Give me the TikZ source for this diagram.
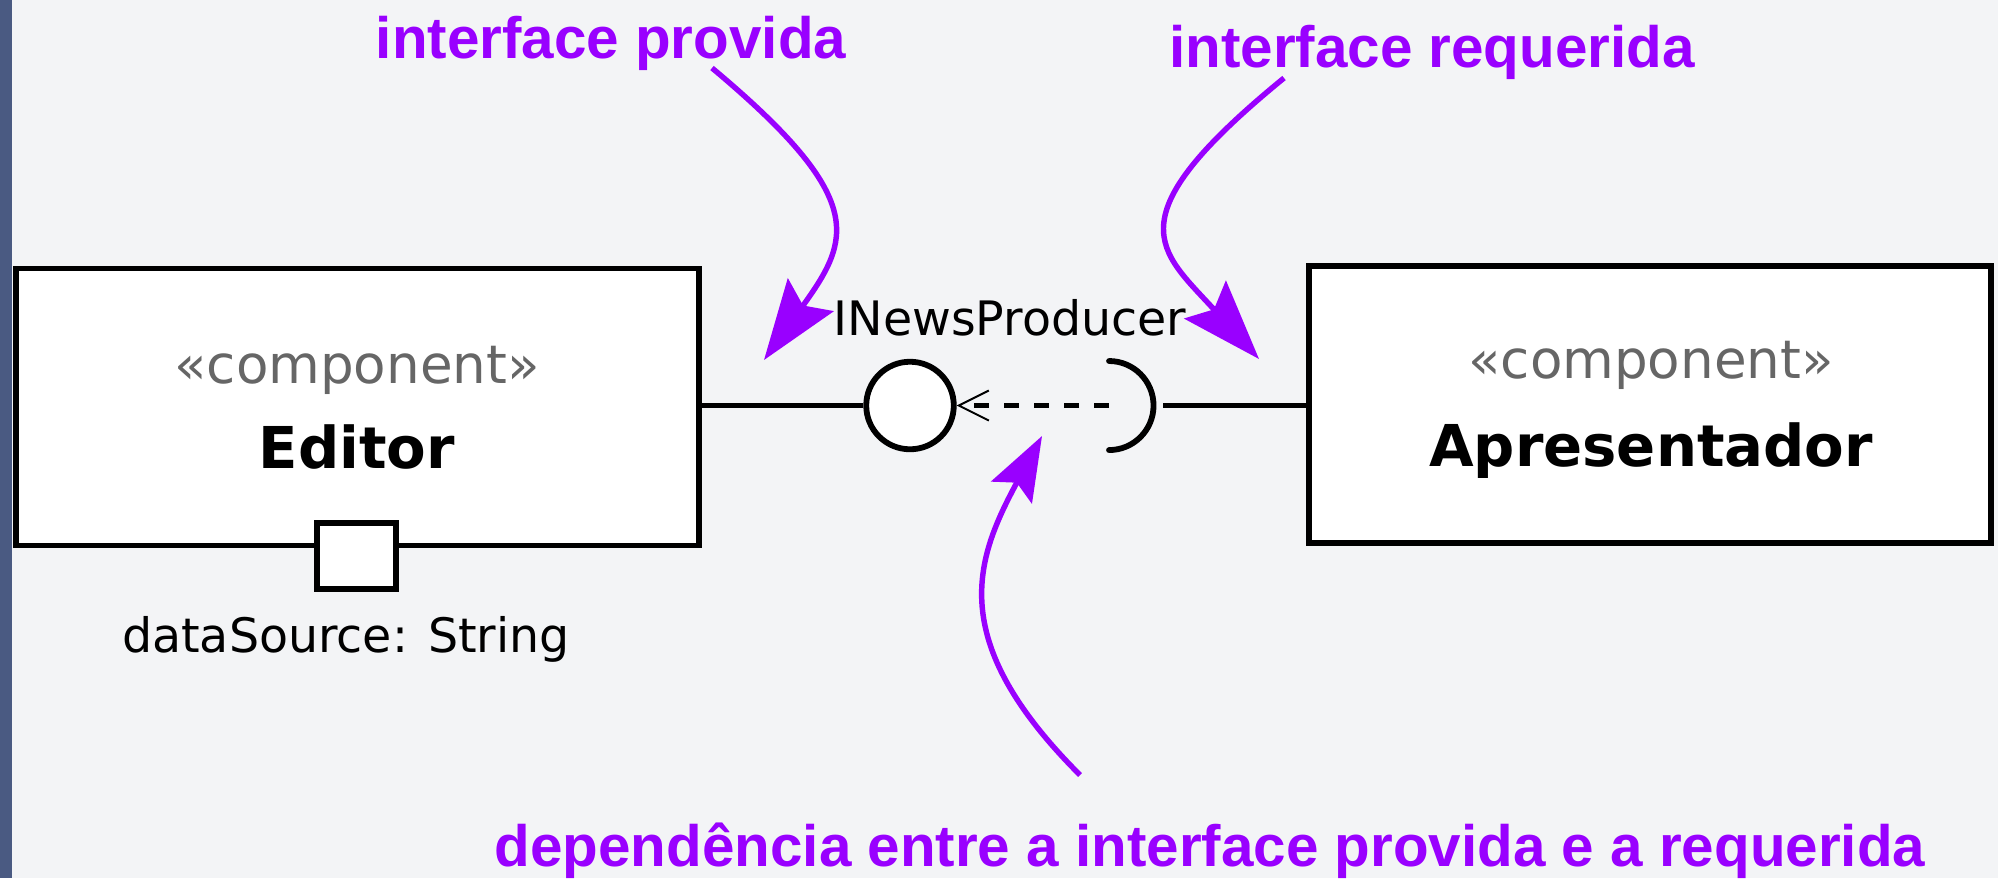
\documentclass[tikz,border=0pt]{standalone}
\usepackage{fontspec}
\setmainfont{DejaVu Sans}
\newfontfamily\notefont{Liberation Sans}
\usetikzlibrary{arrows.meta}
\usetikzlibrary{positioning}
\definecolor{notepurple}{RGB}{153,0,255}
\definecolor{stereogray}{RGB}{102,102,102}
\definecolor{backdrop}{RGB}{243,244,246}
\definecolor{edgeblue}{RGB}{74,90,130}
\tikzset{comp box/.style={rectangle,draw,fill=white,line width=1.65pt,minimum width=6.82cm,minimum height=2.77cm,inner sep=0pt}}
\tikzset{stereo/.style={anchor=base,text=stereogray,font=\fontsize{15.1}{18}\selectfont}}
\tikzset{comp name/.style={anchor=base,font=\fontsize{16.4}{20}\selectfont\bfseries}}
\tikzset{small label/.style={anchor=base,font=\fontsize{13.5}{16}\selectfont}}
\tikzset{note/.style={anchor=base,text=notepurple,font=\notefont\fontsize{16.6}{20}\selectfont\bfseries}}
\tikzset{uml line/.style={line width=1.65pt}}
\tikzset{note arrow/.style={notepurple,line width=1.55pt}}

\begin{document}
\begin{tikzpicture}[x=0.01cm,y=-0.01cm]
    \useasboundingbox (0,0) rectangle (1998,878);
    \fill[backdrop] (0,0) rectangle (1998,878);
    \fill[edgeblue] (0,0) rectangle (12,878);

    % components
    \node[comp box] (editor) at (357.5,407) {};
    \node[comp box] (apresentador) at (1650,404.5) {};
    \node[stereo] (editor-st) at (357,383) {«component»};
    \node[comp name] (editor-name) at (357,468) {Editor};
    \node[stereo] (apresentador-st) at (1651,378) {«component»};
    \node[comp name] (apresentador-name) at (1651,466) {Apresentador};

    % port
    \node[rectangle,draw,fill=white,line width=1.65pt,minimum width=0.79cm,minimum height=0.66cm,inner sep=0pt] (port) at (356.5,556) {};
    \node[small label] (port-label) at (346,652) {dataSource: String};

    % interface provided / required
    \node[circle,draw,fill=white,line width=1.65pt,minimum size=0.875cm,inner sep=0pt] (iface) at (910,405.5) {};
    \coordinate (sock) at (1109,405.5);
    \coordinate (sock-r) at (1163,405.5);
    \node[small label] (iface-label) at (1010,335) {INewsProducer};

    \draw[uml line] (iface -| editor.east) -- (iface);
    \draw[uml line,line cap=round] (sock) ++(0,-44.5) arc[start angle=90,end angle=-90,radius=0.445cm];
    \draw[uml line] (sock-r) -- (sock-r -| apresentador.west);
    \draw[uml line,dash pattern=on 0.15cm off 0.15cm,-{Straight Barb[length=0.3cm,width=0.3cm,line width=0.55pt]}] (sock) -- (iface);

    % notes
    \node[note] (provida) at (611,58) {interface provida};
    \node[note] (requerida) at (1432,67) {interface requerida};
    \node[note] (dependencia) at (1210,866) {dependência entre a interface provida e a requerida};
    \coordinate (provida-tail) at (712,68);
    \coordinate (provida-tip) at (764,360);
    \coordinate (requerida-tail) at (1284,78);
    \coordinate (requerida-tip) at (1259,359);
    \coordinate (dependencia-tail) at (1080,775);
    \coordinate (dependencia-tip) at (1042,436);

    \draw[note arrow,-{Stealth[length=0.8cm,width=0.56cm,inset=0.13cm]}] (provida-tail) .. controls (870,200) and (850,240) .. (provida-tip);
    \draw[note arrow,-{Stealth[length=0.8cm,width=0.56cm,inset=0.13cm]}] (requerida-tail) .. controls (1110,220) and (1160,250) .. (requerida-tip);
    \draw[note arrow,-{Stealth[length=0.64cm,width=0.46cm,inset=0.11cm]}] (dependencia-tail) .. controls (945,640) and (975,560) .. (dependencia-tip);
\end{tikzpicture}
\end{document}
